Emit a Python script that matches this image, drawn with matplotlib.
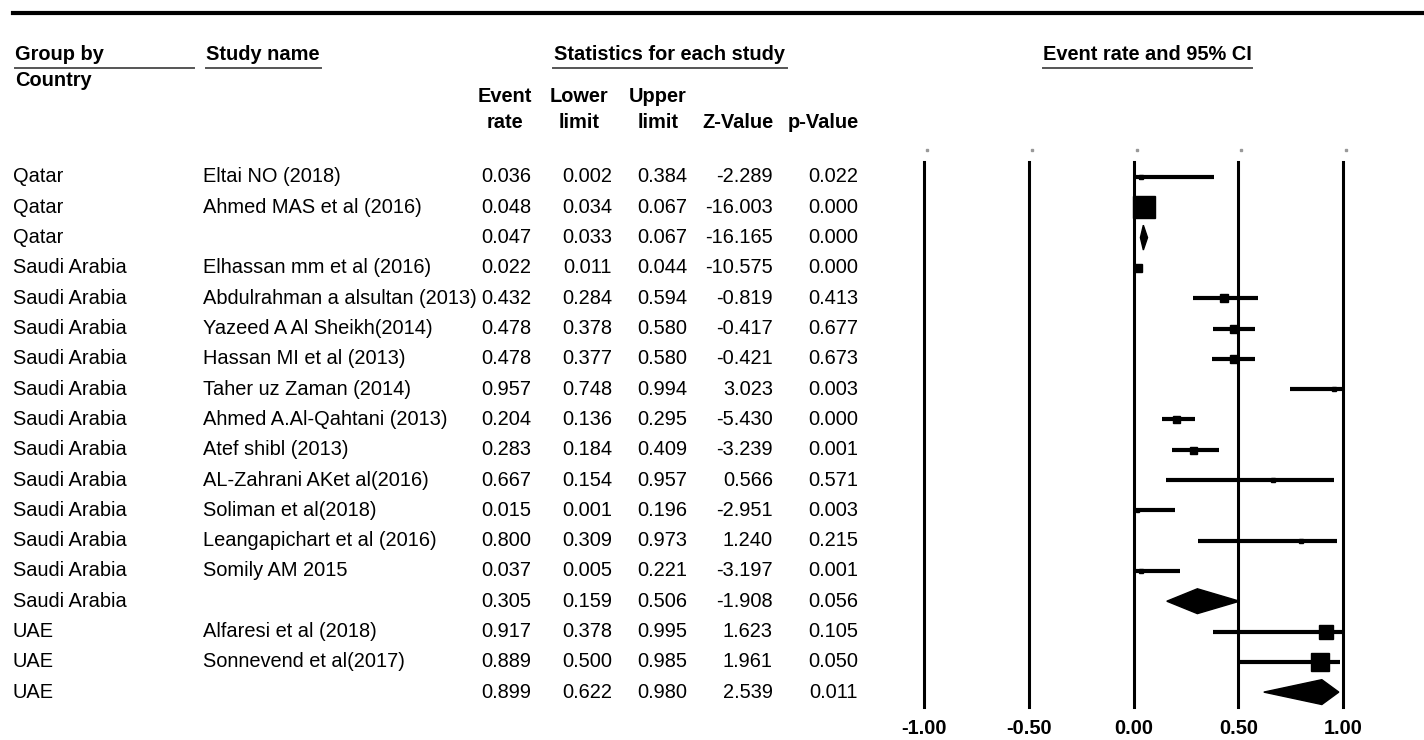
"""Forest plot of pooled event rates grouped by country."""

import matplotlib
matplotlib.use("Agg")
import matplotlib.pyplot as plt
from matplotlib.patches import Polygon
from matplotlib.transforms import blended_transform_factory

plt.rcParams["font.family"] = ["Liberation Sans", "DejaVu Sans"]

country = ["Qatar", "Qatar", "Qatar",
           "Saudi Arabia", "Saudi Arabia", "Saudi Arabia", "Saudi Arabia",
           "Saudi Arabia", "Saudi Arabia", "Saudi Arabia", "Saudi Arabia",
           "Saudi Arabia", "Saudi Arabia", "Saudi Arabia", "Saudi Arabia",
           "UAE", "UAE", "UAE"]
study = ["Eltai NO (2018)", "Ahmed MAS et al (2016)", "",
         "Elhassan mm et al (2016)", "Abdulrahman a alsultan (2013)",
         "Yazeed A Al Sheikh(2014)", "Hassan MI et al (2013)",
         "Taher uz Zaman (2014)", "Ahmed A.Al-Qahtani (2013)",
         "Atef shibl (2013)", "AL-Zahrani AKet al(2016)",
         "Soliman et al(2018)", "Leangapichart et al (2016)",
         "Somily AM 2015", "",
         "Alfaresi et al (2018)", "Sonnevend et al(2017)", ""]
event_rate = [0.036, 0.048, 0.047, 0.022, 0.432, 0.478, 0.478, 0.957, 0.204,
              0.283, 0.667, 0.015, 0.800, 0.037, 0.305, 0.917, 0.889, 0.899]
lower = [0.002, 0.034, 0.033, 0.011, 0.284, 0.378, 0.377, 0.748, 0.136,
         0.184, 0.154, 0.001, 0.309, 0.005, 0.159, 0.378, 0.500, 0.622]
upper = [0.384, 0.067, 0.067, 0.044, 0.594, 0.580, 0.580, 0.994, 0.295,
         0.409, 0.957, 0.196, 0.973, 0.221, 0.506, 0.995, 0.985, 0.980]
z_value = [-2.289, -16.003, -16.165, -10.575, -0.819, -0.417, -0.421, 3.023,
           -5.430, -3.239, 0.566, -2.951, 1.240, -3.197, -1.908, 1.623,
           1.961, 2.539]
p_value = [0.022, 0.000, 0.000, 0.000, 0.413, 0.677, 0.673, 0.003, 0.000,
           0.001, 0.571, 0.003, 0.215, 0.001, 0.056, 0.105, 0.050, 0.011]
# box size (px) per study, proportional to weight; None marks a subgroup total
box_px = [5, 22, None, 8, 8, 8, 8, 5, 7, 7, 4, 3, 5, 5, None, 14, 18, None]
axis_ticks = [-1.0, -0.5, 0.0, 0.5, 1.0]

W, H = 1424, 740
ROW0, ROWH = 177, 30.3
FS = 14.4


def fx(px):
    return px / W


def fy(py):
    return 1 - py / H


fig = plt.figure(figsize=(W / 100, H / 100), dpi=100)
fig.patch.set_facecolor("white")

# forest panel
x_left, x_right, y_top, y_bot = 924, 1343, 162, 707
ax = fig.add_axes([fx(x_left), fy(y_bot), fx(x_right - x_left),
                   (y_bot - y_top) / H])
ax.set_xlim(-1, 1)
ax.set_ylim((y_bot - ROW0) / ROWH, (y_top - ROW0) / ROWH)
ax.axis("off")

for t in axis_ticks:
    ax.axvline(t, color="black", lw=2.2, clip_on=False, zorder=1)

tr_row = blended_transform_factory(fig.transFigure, ax.transData)
tr_tick = blended_transform_factory(ax.transData, fig.transFigure)

for t in axis_ticks:
    ax.plot([t + 0.015], [fy(150)], transform=tr_tick, marker="s", ms=1.5,
            color="#999999", clip_on=False)
    ax.text(t, fy(728), f"{t:.2f}", transform=tr_tick, ha="center",
            va="center", fontsize=FS, fontweight="bold")

for i in range(len(event_rate)):
    if box_px[i] is None:
        h = 0.41
        ax.add_patch(Polygon([(lower[i], i), (event_rate[i], i - h),
                              (upper[i], i), (event_rate[i], i + h)],
                             closed=True, color="black", zorder=3))
    else:
        ax.plot([lower[i], upper[i]], [i, i], color="black", lw=3.0,
                solid_capstyle="butt", zorder=2)
        ax.plot(event_rate[i], i, marker="s", color="black",
                ms=box_px[i] * 0.72, zorder=3)

# table columns
for i in range(len(event_rate)):
    ax.text(fx(13), i, country[i], transform=tr_row, va="center", fontsize=FS)
    ax.text(fx(203), i, study[i], transform=tr_row, va="center", fontsize=FS)
    cols = [(531, f"{event_rate[i]:.3f}"), (612, f"{lower[i]:.3f}"),
            (687, f"{upper[i]:.3f}"), (773, f"{z_value[i]:.3f}"),
            (858, f"{p_value[i]:.3f}")]
    for xr, s in cols:
        ax.text(fx(xr), i, s, transform=tr_row, ha="right", va="center",
                fontsize=FS)

# headers
fig.add_artist(plt.Line2D([fx(13), 1], [fy(13), fy(13)], color="black",
                          lw=3))


def underlined(x0, x1, text, ha="left"):
    xt = x0 if ha == "left" else (x0 + x1) / 2
    fig.text(fx(xt), fy(55), text, ha=ha, va="center", fontsize=FS,
             fontweight="bold")
    fig.add_artist(plt.Line2D([fx(x0), fx(x1)], [fy(68), fy(68)],
                              color="#555555", lw=1.4))


underlined(15, 194, "Group by")
underlined(206, 321, "Study name")
underlined(553, 787, "Statistics for each study", ha="center")
underlined(1043, 1252, "Event rate and 95% CI", ha="center")
fig.text(fx(15), fy(80), "Country", va="center", fontsize=FS,
         fontweight="bold")

col_heads = [(505, "Event", "rate"), (579, "Lower", "limit"),
             (658, "Upper", "limit"), (738, "", "Z-Value"),
             (823, "", "p-Value")]
for xc, l1, l2 in col_heads:
    fig.text(fx(xc), fy(97), l1, ha="center", va="center", fontsize=FS,
             fontweight="bold")
    fig.text(fx(xc), fy(123), l2, ha="center", va="center", fontsize=FS,
             fontweight="bold")

fig.savefig("out.png", dpi=100)
plt.close(fig)
